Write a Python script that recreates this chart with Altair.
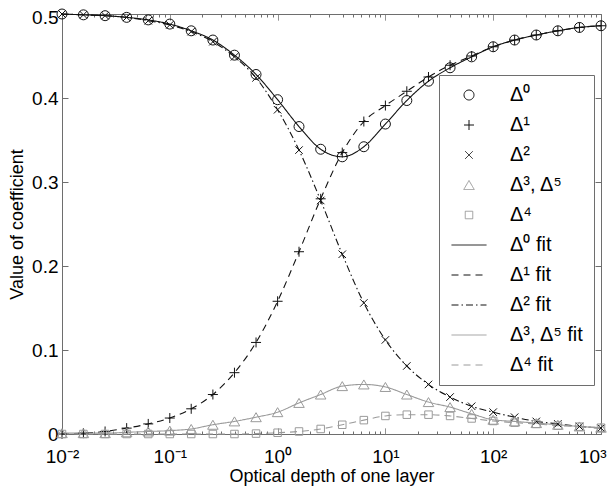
import altair as alt
import pandas as pd

# ---------------- data ----------------
x_vals = [0.01, 0.0158, 0.0251, 0.0398, 0.0631, 0.1, 0.158, 0.251, 0.398, 0.631,
          1.0, 1.58, 2.51, 3.98, 6.31, 10.0, 15.8, 25.1, 39.8, 63.1,
          100.0, 158.0, 251.0, 398.0, 631.0, 1000.0]

d0 = [0.500, 0.499, 0.498, 0.496, 0.493, 0.488, 0.480, 0.469, 0.451, 0.428,
      0.398, 0.366, 0.339, 0.330, 0.342, 0.369, 0.397, 0.420, 0.436, 0.449,
      0.461, 0.469, 0.475, 0.480, 0.484, 0.486]
d1 = [0.000, 0.001, 0.003, 0.007, 0.012, 0.019, 0.030, 0.047, 0.073, 0.109,
      0.158, 0.217, 0.280, 0.335, 0.372, 0.391, 0.408, 0.425, 0.439, 0.450,
      0.461, 0.469, 0.475, 0.480, 0.484, 0.486]
d2 = [0.500, 0.499, 0.498, 0.496, 0.492, 0.487, 0.479, 0.467, 0.449, 0.424,
      0.386, 0.338, 0.278, 0.214, 0.156, 0.112, 0.081, 0.059, 0.044, 0.033,
      0.026, 0.020, 0.015, 0.012, 0.009, 0.007]
d35 = [0.001, 0.001, 0.001, 0.002, 0.003, 0.004, 0.006, 0.011, 0.015, 0.020,
       0.026, 0.037, 0.047, 0.057, 0.059, 0.056, 0.047, 0.038, 0.032, 0.024,
       0.017, 0.015, 0.013, 0.011, 0.009, 0.0075]
d4 = [0.000, 0.000, 0.000, 0.000, 0.000, 0.000, 0.000, 0.000, 0.000, 0.0005,
      0.0015, 0.003, 0.006, 0.011, 0.0165, 0.0215, 0.023, 0.023, 0.0215, 0.0185,
      0.0155, 0.0135, 0.012, 0.010, 0.0087, 0.0075]

marker_labels = ["Δ⁰", "Δ¹", "Δ²", "Δ³, Δ⁵", "Δ⁴"]
fit_labels = ["Δ⁰ fit", "Δ¹ fit", "Δ² fit", "Δ³, Δ⁵ fit", "Δ⁴ fit"]
series = [d0, d1, d2, d35, d4]

x_major = [0.01, 0.1, 1, 10, 100, 1000]
x_tick_labels = ["10⁻²", "10⁻¹", "10⁰", "10¹", "10²", "10³"]
y_ticks = [0, 0.1, 0.2, 0.3, 0.4, 0.5]
y_tick_labels = ["0", "0.1", "0.2", "0.3", "0.4", "0.5"]

# ---------------- styles ----------------
BLACK = "#111111"
GRAY = "#9a9a9a"
FRAME = "#6e6e6e"
FONT = "Liberation Sans"

entries = marker_labels + fit_labels
colors = [BLACK, BLACK, BLACK, GRAY, GRAY, BLACK, BLACK, BLACK, GRAY, GRAY]
circle_p = "M-1,0A1,1 0 1,0 1,0A1,1 0 1,0 -1,0Z"
plus_p = "M-1,0L1,0M0,-1L0,1"
x_p = "M-0.75,-0.75L0.75,0.75M-0.75,0.75L0.75,-0.75"
tri_p = "M0,-0.9L1.05,0.9L-1.05,0.9Z"
sq_p = "M-0.75,-0.75L0.75,-0.75L0.75,0.75L-0.75,0.75Z"
line_p = "M-3.5,0L3.5,0"
shapes = [circle_p, plus_p, x_p, tri_p, sq_p] + [line_p] * 5
dashes = [[1, 0]] * 5 + [[1, 0], [7, 5], [7, 3, 1.5, 3], [1, 0], [7, 5]]

points_rows = []
fits_rows = []
for lab, flab, vals in zip(marker_labels, fit_labels, series):
    for xv, yv in zip(x_vals, vals):
        points_rows.append({"x": xv, "value": yv, "entry": lab})
        fits_rows.append({"x": xv, "value": yv, "entry": flab})
points_df = pd.DataFrame(points_rows)
fits_df = pd.DataFrame(fits_rows)

W, H = 539, 420

x_minor = [m * 10 ** e for e in range(-2, 3) for m in range(2, 10)]
x_all = sorted(x_major + x_minor)
x_label_expr = "".join(
    f"abs(datum.value/{v} - 1) < 1e-6 ? '{lab}' : " for v, lab in zip(x_major, x_tick_labels)
) + "''"
y_label_expr = "".join(
    f"abs(datum.value - {v}) < 1e-9 ? '{lab}' : " for v, lab in zip(y_ticks, y_tick_labels)
) + "''"
minor_test = "abs(log(datum.value)/LN10 - round(log(datum.value)/LN10)) > 0.001"
minor_dash = {"condition": {"test": minor_test, "value": [0, 3, 3, 0]}, "value": [1, 0]}
top_label_shift = {"condition": {"test": "datum.value >= 0.5", "value": 3}, "value": 0}
last_x_align = {"condition": {"test": "datum.value >= 999", "value": "right"}, "value": "center"}
last_x_shift = {"condition": {"test": "datum.value >= 999", "value": 5}, "value": 0}

xscale = alt.Scale(type="log", domain=[0.01, 1000], nice=False)
yscale = alt.Scale(domain=[0, 0.5], nice=False, zero=False)

leg = alt.Legend(
    title=None, orient="none", legendX=377, legendY=61,
    labelFont=FONT, labelFontSize=20, labelColor="black",
    symbolSize=100, symbolStrokeWidth=1, symbolOffset=10, labelOffset=31,
    padding=10, rowPadding=10, strokeColor=FRAME, fillColor="white",
    cornerRadius=0, symbolOpacity=1,
)

color = alt.Color("entry:N", scale=alt.Scale(domain=entries, range=colors), legend=leg)

common_axis = dict(domain=False, grid=False, offset=-6, tickSize=6, tickColor=FRAME,
                   tickWidth=1)

x_bottom = alt.Axis(orient="bottom", values=x_all, labelExpr=x_label_expr,
                    labelFont=FONT, labelFontSize=19, labelColor="black",
                    labelPadding=13, labelOverlap=False, labelFlush=False,
                    labelAlign=last_x_align, labelOffset=last_x_shift,
                    tickDash=minor_dash,
                    title="Optical depth of one layer", titleFont=FONT,
                    titleFontSize=18, titleFontWeight="normal", titleColor="black",
                    titleX=W / 2, titleY=53, titleBaseline="alphabetic",
                    titleAlign="center", **common_axis)
y_left = alt.Axis(orient="left", values=y_ticks, labelExpr=y_label_expr,
                  labelFont=FONT, labelFontSize=19, labelColor="black",
                  labelPadding=4, labelOverlap=False, labelFlush=False,
                  labelOffset=top_label_shift,
                  title="Value of coefficient", titleFont=FONT, titleFontSize=18,
                  titleFontWeight="normal", titleColor="black", titleAngle=270,
                  titleX=-51, titleY=H / 2, titleBaseline="middle",
                  titleAlign="center", **common_axis)
x_top = alt.Axis(orient="top", values=x_all, labels=False, title=None,
                 tickDash=minor_dash, **common_axis)
y_right = alt.Axis(orient="right", values=y_ticks, labels=False, title=None,
                   **common_axis)

fits = alt.Chart(fits_df).mark_line(strokeWidth=1.1, interpolate="monotone").encode(
    x=alt.X("x:Q", scale=xscale, axis=x_bottom),
    y=alt.Y("value:Q", scale=yscale, axis=y_left),
    color=color,
    strokeDash=alt.StrokeDash("entry:N", scale=alt.Scale(domain=entries, range=dashes), legend=leg),
)

points = alt.Chart(points_df).mark_point(size=100, strokeWidth=1, opacity=1, filled=False).encode(
    x=alt.X("x:Q", scale=xscale, axis=x_top),
    y=alt.Y("value:Q", scale=yscale, axis=y_right),
    color=color,
    shape=alt.Shape("entry:N", scale=alt.Scale(domain=entries, range=shapes), legend=leg),
)

chart = alt.layer(fits, points).resolve_axis(
    x="independent", y="independent"
).properties(
    width=W, height=H,
    padding={"left": 54, "top": 6, "right": 6, "bottom": 52},
    autosize=alt.AutoSizeParams(type="none"),
    background="white",
).configure_view(stroke=FRAME, strokeWidth=1)

chart.save("out.html", embed_options={"renderer": "svg", "actions": False})
